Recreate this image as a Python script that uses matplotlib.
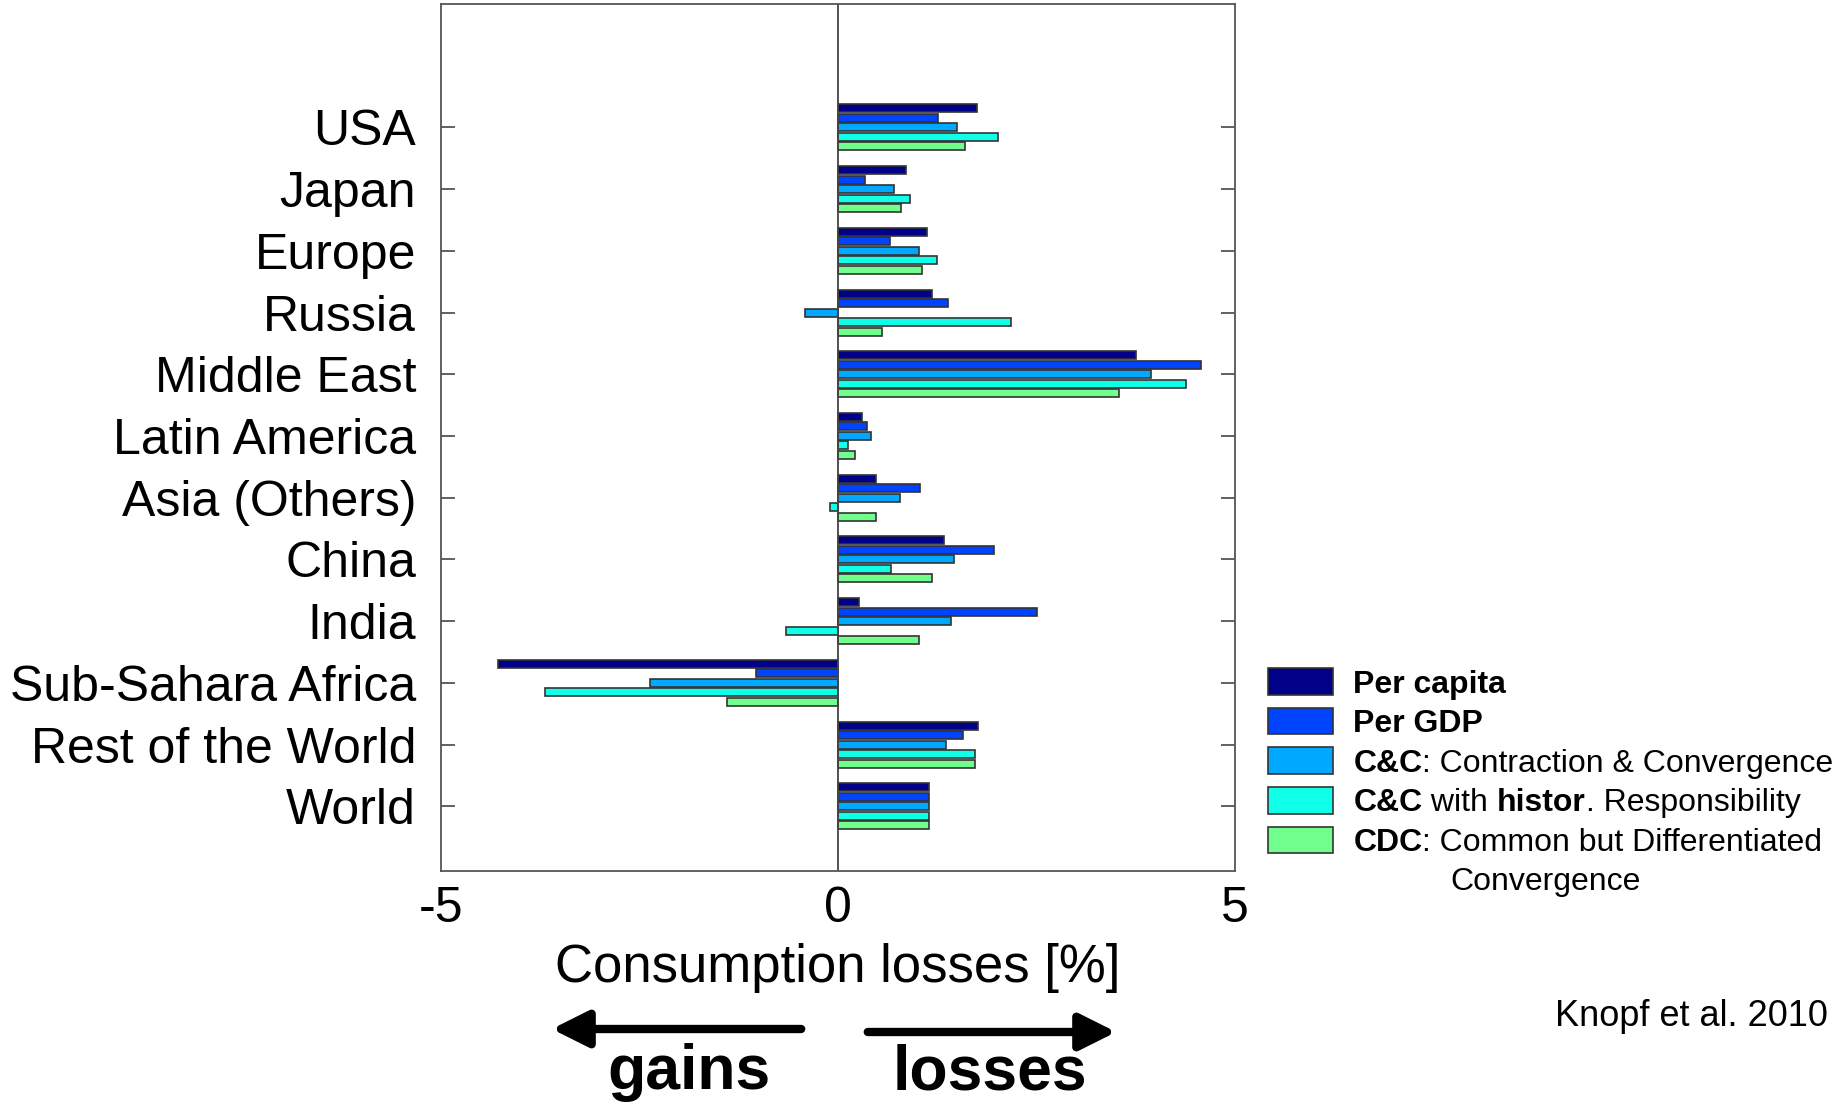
import matplotlib
matplotlib.use("Agg")
import matplotlib.pyplot as plt
import numpy as np

plt.rcParams['font.family'] = ['Liberation Sans', 'DejaVu Sans']

regions = ["USA", "Japan", "Europe", "Russia", "Middle East", "Latin America",
           "Asia (Others)", "China", "India", "Sub-Sahara Africa",
           "Rest of the World", "World"]

per_capita = [1.75, 0.85, 1.12, 1.18, 3.75, 0.30, 0.48, 1.34, 0.27, -4.28, 1.76, 1.15]
per_gdp = [1.26, 0.34, 0.66, 1.38, 4.57, 0.36, 1.03, 1.97, 2.51, -1.03, 1.57, 1.15]
cc = [1.50, 0.70, 1.02, -0.41, 3.94, 0.42, 0.78, 1.46, 1.42, -2.37, 1.36, 1.15]
cc_histor = [2.02, 0.91, 1.24, 2.18, 4.38, 0.12, -0.10, 0.67, -0.65, -3.69, 1.72, 1.15]
cdc = [1.60, 0.79, 1.06, 0.55, 3.54, 0.21, 0.48, 1.18, 1.02, -1.40, 1.72, 1.15]

series = [per_capita, per_gdp, cc, cc_histor, cdc]
colors = ["#000088", "#0044ff", "#00a8ff", "#10ffe8", "#70ff8c"]
# legend labels as (text, bold) pieces
label_parts = [
    [("Per capita", True)],
    [("Per GDP", True)],
    [("C&C", True), (": Contraction & Convergence", False)],
    [("C&C", True), (" with ", False), ("histor", True), (". Responsibility", False)],
    [("CDC", True), (": Common but Differentiated", False)],
]

fig = plt.figure(figsize=(18.33, 11.12), dpi=100)
ax = fig.add_axes([0.2406, 0.2167, 0.4332, 0.7797])

ypos = np.arange(len(regions), 0, -1)
pitch = 0.154
handles = []
for i, (vals, col) in enumerate(zip(series, colors)):
    h = ax.barh(ypos + (2 - i) * pitch, vals, height=0.13, color=col,
                edgecolor="#333333", linewidth=1.2)
    handles.append(h)

ax.axvline(0, color="#444444", lw=1.3)
ax.set_xlim(-5, 5)
ax.set_ylim(-0.05, 14)
ax.set_xticks([-5, 0, 5])
ax.set_xticklabels(["-5", "0", "5"])
ax.set_yticks(ypos)
ax.set_yticklabels(regions)
ax.tick_params(axis='y', direction='in', length=10, width=1.3, color="#555555",
               right=True, labelsize=36, pad=18)
ax.tick_params(axis='x', length=0, labelsize=36, pad=11)
for s in ax.spines.values():
    s.set_color("#555555")
    s.set_linewidth(1.3)
ax.set_xlabel("Consumption losses [%]", fontsize=38, labelpad=8)

plain = ["".join(p for p, _ in parts) for parts in label_parts]
leg = fig.legend(handles, plain, loc='upper left', bbox_to_anchor=(0.6918, 0.399),
                 frameon=False, fontsize=23, handlelength=2.04, handleheight=0.9,
                 handletextpad=0.63, labelspacing=0.26, borderpad=0, borderaxespad=0)

# redraw legend labels with mixed bold / regular pieces
fig.canvas.draw()
renderer = fig.canvas.get_renderer()
inv = fig.transFigure.inverted()


def piece_width(s, bold):
    w = []
    for t in (s + "x", "x"):
        tt = fig.text(0, 0, t, fontsize=23, fontweight='bold' if bold else 'normal')
        w.append(tt.get_window_extent(renderer).width)
        tt.remove()
    return w[0] - w[1]


for txt, parts in zip(leg.get_texts(), label_parts):
    bb = txt.get_window_extent(renderer)
    x = bb.x0
    yc = (bb.y0 + bb.y1) / 2
    txt.set_alpha(0)
    for s, bold in parts:
        fx, fy = inv.transform((x, yc))
        fig.text(fx, fy, s, fontsize=23, fontweight='bold' if bold else 'normal',
                 ha='left', va='center')
        x += piece_width(s, bold)

fig.text(0.843, 0.207, "Convergence", fontsize=23, ha='center', va='center')

fig.text(0.997, 0.086, "Knopf et al. 2010", fontsize=26, va='center', ha='right')

# arrows
fig.add_artist(matplotlib.patches.FancyArrowPatch(
    (804 / 1833, 1 - 1029 / 1112), (549 / 1833, 1 - 1029 / 1112),
    transform=fig.transFigure, arrowstyle='-|>,head_length=1.1,head_width=0.55',
    mutation_scale=20, lw=6, color='black'))
fig.add_artist(matplotlib.patches.FancyArrowPatch(
    (865 / 1833, 1 - 1032 / 1112), (1119 / 1833, 1 - 1032 / 1112),
    transform=fig.transFigure, arrowstyle='-|>,head_length=1.1,head_width=0.55',
    mutation_scale=20, lw=6, color='black'))
fig.text(689 / 1833, 1 - 1072 / 1112, "gains", fontsize=45, fontweight='bold',
         ha='center', va='center')
fig.text(990 / 1833, 1 - 1073 / 1112, "losses", fontsize=45, fontweight='bold',
         ha='center', va='center')

fig.savefig("out.png", dpi=100)
